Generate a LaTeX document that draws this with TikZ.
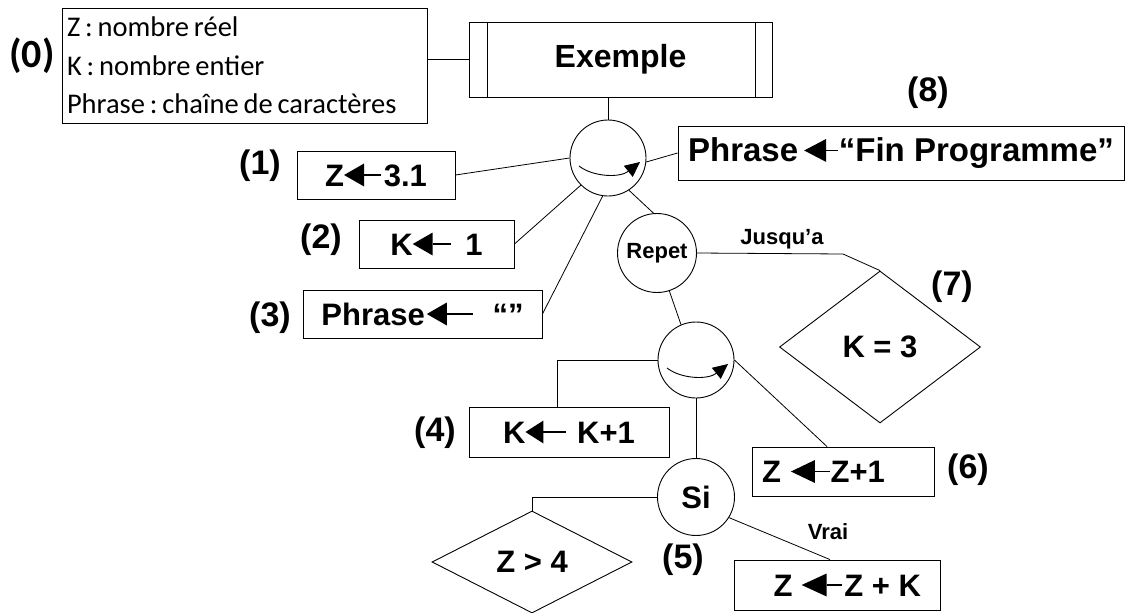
\documentclass[tikz,border=0pt]{standalone}
\usepackage{fontspec}
\setmainfont{Liberation Sans}
\newfontfamily\calib{Carlito}
\usetikzlibrary{shapes.geometric,arrows.meta,calc}
\newcommand\larr[2]{\tikz[baseline=0pt]{\fill (0pt,11pt) -- (#1,22.5pt) -- (#1,-0.5pt) -- cycle; \draw[line width=1.4pt] (#1,11pt) -- ++(#2,0pt);}}
\newcommand\tightspaces{\spaceskip=0.17em\relax}
\tikzset{
  box/.style={draw, line width=0.9pt, inner sep=0pt, font=\bfseries\fontsize{31}{33}\selectfont},
  circ/.style={draw, circle, inner sep=0pt, line width=0.9pt, font=\bfseries\fontsize{31}{33}\selectfont},
  dia/.style={draw, diamond, inner sep=0pt, line width=0.9pt, font=\bfseries\fontsize{31}{33}\selectfont},
  lab/.style={font=\bfseries\fontsize{34}{36}\selectfont},
  smalltxt/.style={font=\bfseries\fontsize{22}{24}\selectfont},
  conn/.style={line width=0.8pt},
  seqarrow/.style={line width=0.9pt, -{Triangle[length=15pt,width=14pt]}}
}
\begin{document}
\frenchspacing
\begin{tikzpicture}[x=1pt,y=-1pt]
\useasboundingbox (0,0) rectangle (1133,613);

% declarations
\node[box, minimum width=365pt, minimum height=115pt, font=\calib\fontsize{28.5}{38.5}\selectfont, text width=355pt, align=left] (decl) at (244.5,65.5) {\tightspaces Z : nombre réel\\K : nombre entier\\Phrase : chaîne de caractères};
\node[font=\calib\bfseries\fontsize{40}{42}\selectfont] (l0) at (32,56) {(0)};

% Exemple
\node[box, minimum width=303pt, minimum height=75pt, font=\bfseries\fontsize{32}{34}\selectfont] (ex) at (620.5,59.5) {Exemple};
\draw[line width=0.9pt] ([xshift=19pt]ex.north west) -- ([xshift=19pt]ex.south west);
\draw[line width=0.9pt] ([xshift=-17pt]ex.north east) -- ([xshift=-17pt]ex.south east);

% first sequence
\node[circ, minimum size=76pt] (c1) at (608,158) {};
\node[box, minimum width=158pt, minimum height=48pt] (b1) at (376,175) {Z\larr{20pt}{17pt}\kern2pt 3.1};
\node[box, minimum width=155pt, minimum height=48pt] (b2) at (436.5,244) {K\larr{20pt}{18pt}\hspace{14pt}1};
\node[box, minimum width=239pt, minimum height=48pt] (b3) at (422.5,314) {Phrase\kern2pt\larr{20pt}{26pt}\hspace{19pt}“”};
\node[box, minimum width=446pt, minimum height=54pt, font=\bfseries\fontsize{33}{35}\selectfont] (b8) at (901,153) {Phrase\hspace{6pt}\larr{22pt}{12pt}“Fin Programme”};

\node[lab] (l1) at (260,166) {(1)};
\node[lab] (l2) at (321,240) {(2)};
\node[lab] (l3) at (270,318) {(3)};
\node[lab] (l8) at (928,93) {(8)};

% repeat
\node[circ, minimum size=79pt, smalltxt] (rp) at (657,253) {Repet};
\coordinate (jb) at (843,254);
\node[dia, minimum width=201pt, minimum height=152pt] (d7) at (880,347) {K = 3};
\node[smalltxt] (jl) at (782,239) {Jusqu’a};
\node[lab] (l7) at (952,287) {(7)};

% second sequence
\node[circ, minimum size=76pt] (c2) at (696,360) {};
\node[box, minimum width=200pt, minimum height=50pt] (b4) at (569,432) {K\larr{18pt}{23pt}\hspace{10pt}K+1};
\node[box, minimum width=182pt, minimum height=49pt] (b6) at (843,471.5) {\makebox[162pt][l]{Z\hspace{10pt}\larr{24pt}{15pt}Z+1}};
\node[lab] (l4) at (435,433) {(4)};
\node[lab] (l6) at (968,470) {(6)};

% si
\node[circ, minimum size=77pt] (si) at (696,497) {Si};
\node[dia, minimum width=200pt, minimum height=102pt] (d5) at (532,562) {Z > 4};
\node[box, minimum width=206pt, minimum height=50pt] (b5) at (837,585) {\makebox[168pt][r]{Z\hspace{9pt}\larr{25pt}{15pt}\kern2pt Z + K}};
\node[smalltxt] (vl) at (828,532) {Vrai};
\node[lab] (l5) at (683,560) {(5)};

% connectors
\draw[conn] (decl.east |- ex.west) -- (ex.west);
\draw[conn] (ex.south -| c1.north) -- (c1.north);
\draw[conn] (b1.east) -- (c1.west);
\draw[conn] (b2.east) -- (c1.225);
\draw[conn] (b3.east) -- (c1.262);
\draw[conn] (c1.354) -- (b8.west);
\draw[conn] (c1.303) -- (rp.95);
\draw[conn] (rp.east) -- (jb) -- (d7.north);
\draw[conn] (rp.288) -- (c2.113);
\draw[conn] (c2.west) -| ([xshift=-12pt]b4.north);
\draw[conn] (c2.east) -- ([xshift=-16pt]b6.north);
\draw[conn] (c2.south) -- (si.north);
\draw[conn] (si.west) -| (d5.north);
\draw[conn] (si.328) -- ([xshift=-7pt]b5.north);

% sequence arrows
\draw[seqarrow] ($(c1)+(-29,8)$) .. controls ($(c1)+(-15,19)$) and ($(c1)+(12,20)$) .. ($(c1)+(32,4)$);
\draw[seqarrow] ($(c2)+(-29,8)$) .. controls ($(c2)+(-15,19)$) and ($(c2)+(12,20)$) .. ($(c2)+(32,4)$);
\end{tikzpicture}
\end{document}
